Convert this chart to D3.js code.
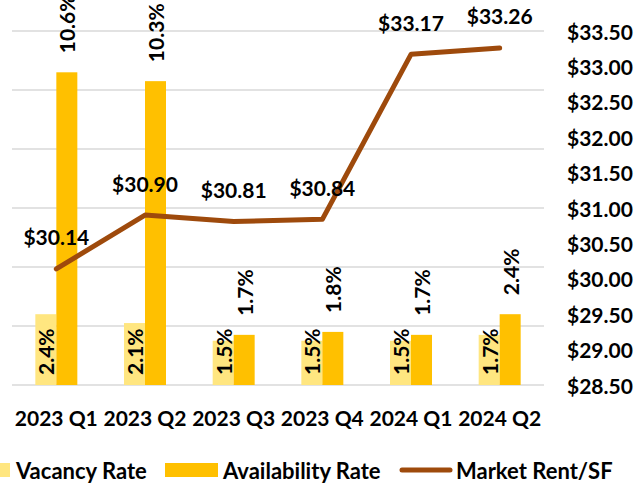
<!DOCTYPE html>
<html>
<head>
<meta charset="utf-8">
<script src="https://cdn.jsdelivr.net/npm/d3@7"></script>
<style>
  html, body { margin: 0; padding: 0; background: #fff; }
  svg { display: block; font-family: Lato, "Open Sans", sans-serif; font-weight: bold; }
</style>
</head>
<body>
<svg id="chart" width="642" height="485"></svg>
<script>
// chart data
const quarters = ['2023 Q1', '2023 Q2', '2023 Q3', '2023 Q4', '2024 Q1', '2024 Q2'];
const vacancyRate = [2.4, 2.1, 1.5, 1.5, 1.5, 1.7];
const availabilityRate = [10.6, 10.3, 1.7, 1.8, 1.7, 2.4];
const marketRent = [30.14, 30.90, 30.81, 30.84, 33.17, 33.26];
const rateTicks = [0, 2, 4, 6, 8, 10, 12];
const rentTicks = [28.5, 29, 29.5, 30, 30.5, 31, 31.5, 32, 32.5, 33, 33.5];

const colors = { vacancy: '#FFE680', availability: '#FFC000', rent: '#9E4A0C', grid: '#D9D9D9' };
const fontSize = 21;

const svg = d3.select('#chart');
const plot = { left: 12, right: 544, top: 31, bottom: 385 };

const x = d3.scaleBand().domain(quarters).range([plot.left, plot.right]).padding(0);
const barW = 21;
const xSeries = d3.scaleBand().domain(['vacancy', 'availability'])
  .range([x.bandwidth() / 2 - barW, x.bandwidth() / 2 + barW]);
const yRate = d3.scaleLinear().domain([0, 12]).range([plot.bottom, plot.top]);
const yRent = d3.scaleLinear().domain([28.5, 33.5]).range([plot.bottom, plot.top]);

// gridlines (left axis itself is hidden)
svg.append('g')
  .selectAll('line')
  .data(rateTicks)
  .join('line')
  .attr('x1', plot.left).attr('x2', plot.right)
  .attr('y1', d => yRate(d)).attr('y2', d => yRate(d))
  .attr('stroke', colors.grid)
  .attr('stroke-width', 1.6);

// bars
const barData = quarters.flatMap((q, i) => [
  { q, key: 'vacancy', value: vacancyRate[i] },
  { q, key: 'availability', value: availabilityRate[i] }
]);

svg.append('g')
  .selectAll('rect')
  .data(barData)
  .join('rect')
  .attr('x', d => x(d.q) + xSeries(d.key))
  .attr('width', xSeries.bandwidth())
  .attr('y', d => yRate(d.value))
  .attr('height', d => yRate(0) - yRate(d.value))
  .attr('fill', d => colors[d.key]);

// bar labels, rotated
svg.append('g')
  .selectAll('text')
  .data(barData)
  .join('text')
  .attr('transform', d => {
    const cx = x(d.q) + xSeries(d.key) + xSeries.bandwidth() / 2;
    const cy = d.key === 'vacancy' ? yRate(0) - 10 : yRate(d.value) - 19;
    return `translate(${cx},${cy}) rotate(-90)`;
  })
  .attr('text-anchor', 'start')
  .attr('dominant-baseline', 'central')
  .attr('font-size', fontSize)
  .attr('fill', '#000')
  .text(d => d.value.toFixed(1) + '%');

// rent line
const line = d3.line()
  .x((d, i) => x(quarters[i]) + x.bandwidth() / 2)
  .y(d => yRent(d));

svg.append('path')
  .datum(marketRent)
  .attr('d', line)
  .attr('fill', 'none')
  .attr('stroke', colors.rent)
  .attr('stroke-width', 5)
  .attr('stroke-linecap', 'round')
  .attr('stroke-linejoin', 'round');

svg.append('g')
  .selectAll('text')
  .data(marketRent)
  .join('text')
  .attr('x', (d, i) => x(quarters[i]) + x.bandwidth() / 2)
  .attr('y', d => yRent(d) - 32)
  .attr('text-anchor', 'middle')
  .attr('dominant-baseline', 'central')
  .attr('font-size', fontSize)
  .text(d => '$' + d.toFixed(2));

// right axis labels
svg.append('g')
  .selectAll('text')
  .data(rentTicks)
  .join('text')
  .attr('x', 567)
  .attr('y', d => yRent(d))
  .attr('dominant-baseline', 'central')
  .attr('font-size', fontSize)
  .text(d => '$' + d.toFixed(2));

// category labels
svg.append('g')
  .selectAll('text')
  .data(quarters)
  .join('text')
  .attr('x', d => x(d) + x.bandwidth() / 2)
  .attr('y', 417)
  .attr('text-anchor', 'middle')
  .attr('dominant-baseline', 'central')
  .attr('font-size', fontSize)
  .text(d => d);

// legend
const legend = svg.append('g');
const legendY = 470;
const legendFont = 22;
legend.append('rect').attr('x', -43).attr('y', legendY - 7).attr('width', 53).attr('height', 14).attr('fill', colors.vacancy);
legend.append('text').attr('x', 16).attr('y', legendY).attr('dominant-baseline', 'central').attr('font-size', legendFont).text('Vacancy Rate');
legend.append('rect').attr('x', 165).attr('y', legendY - 7).attr('width', 53).attr('height', 14).attr('fill', colors.availability);
legend.append('text').attr('x', 223).attr('y', legendY).attr('dominant-baseline', 'central').attr('font-size', legendFont).text('Availability Rate');
legend.append('line').attr('x1', 402).attr('x2', 450).attr('y1', legendY).attr('y2', legendY)
  .attr('stroke', colors.rent).attr('stroke-width', 5).attr('stroke-linecap', 'round');
legend.append('text').attr('x', 456).attr('y', legendY).attr('dominant-baseline', 'central').attr('font-size', legendFont).text('Market Rent/SF');
</script>
</body>
</html>
